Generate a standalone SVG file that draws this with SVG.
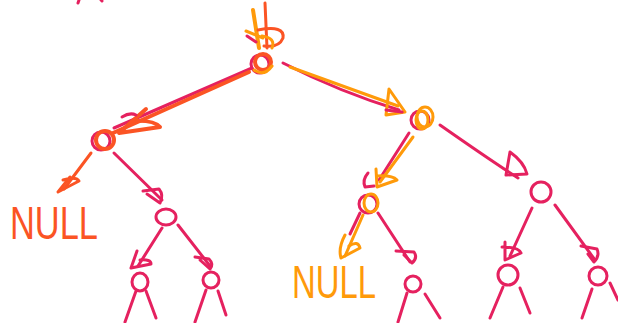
<svg xmlns="http://www.w3.org/2000/svg" width="618" height="323" viewBox="0 0 618 323">
  <style>
    .ln { fill: none; stroke-width: 3; stroke-linecap: round; stroke-linejoin: round; }
    .th { stroke-width: 4; }
    .pk { stroke: #e5215f; }
    .rd { stroke: #fb5424; }
    .og { stroke: #ff9a0a; }
    .lbl { font-family: "Liberation Sans", Arial, sans-serif; font-size: 46px; }
  </style>
  <rect width="618" height="323" fill="#ffffff"/>

  <!-- stray marks along the top edge -->
  <g id="marks">
    <path class="ln pk" d="M79,0 L78,3"/>
    <path class="ln pk" d="M101,0 L102,1"/>
  </g>

  <g id="connectors">
    <!-- entry arrow into the root -->
    <path class="ln og th" d="M253,10 L259,48"/>
    <path class="ln og" d="M246,31 L263,38"/>
    <path class="ln rd" d="M265,3 L267,48"/>
    <path class="ln rd" d="M258,30 Q285,25 283,38 Q279,48 264,46"/>
    <path class="ln og" d="M262,36 Q276,38 272,48"/>
    <path class="ln pk" d="M247,36 L256,42"/>

    <!-- root -> left child -->
    <path class="ln pk" d="M252,68 L114,128"/>
    <path class="ln rd th" d="M249,72 L113,133"/>
    <path class="ln rd th" d="M146,109 L119,133 L160,127 Q154,120 134,121"/>
    <path class="ln pk" d="M122,117 Q130,112 136,115"/>

    <!-- root -> right child -->
    <path class="ln pk" d="M283,63 Q340,92 399,110"/>
    <path class="ln og" d="M290,67 L398,106"/>
    <path class="ln og" d="M389,89 L386,115 L405,112 Z"/>
    <path class="ln pk" d="M386,110 L402,112"/>

    <!-- left child -> NULL -->
    <path class="ln rd" d="M91,153 L64,189"/>
    <path class="ln rd" d="M70,177 L58,192 L79,181 Q76,176 63,180"/>

    <!-- left child -> right subtree -->
    <path class="ln pk" d="M114,153 L162,200"/>
    <path class="ln pk" d="M143,191 L159,189 Q164,195 160,203 L147,194"/>

    <!-- node 166,218 -> children -->
    <path class="ln pk" d="M162,228 L138,266"/>
    <path class="ln pk" d="M137,251 L131,268 L151,264 Q151,259 140,260"/>
    <path class="ln pk" d="M178,225 L210,266"/>
    <path class="ln pk" d="M195,257 L209,259 Q214,264 210,269 L200,260"/>

    <!-- right child -> left subtree -->
    <path class="ln pk" d="M409,133 L379,180"/>
    <path class="ln og" d="M413,137 L380,182"/>
    <path class="ln og" d="M376,169 L377,187 L397,180 Q392,175 378,176"/>
    <path class="ln pk" d="M368,173 Q362,180 365,187 L374,186"/>

    <!-- node 370,203 -> NULL -->
    <path class="ln og" d="M363,215 L345,256"/>
    <path class="ln pk" d="M360,213 L350,234"/>
    <path class="ln og" d="M345,235 Q338,248 341,258 L360,248 Q358,240 349,246"/>

    <!-- node 370,203 -> right -->
    <path class="ln pk" d="M378,213 L410,262"/>
    <path class="ln pk" d="M396,251 L414,252 Q418,258 412,263 L404,255"/>

    <!-- right child -> right subtree -->
    <path class="ln pk" d="M440,125 Q490,160 518,178"/>
    <path class="ln pk" d="M510,152 L506,175 L527,174 Q524,162 510,152"/>

    <!-- node 541,192 -> children -->
    <path class="ln pk" d="M532,208 L510,256"/>
    <path class="ln pk" d="M505,242 L505,260 L521,253 Q519,247 502,247"/>
    <path class="ln pk" d="M555,205 L595,260"/>
    <path class="ln pk" d="M581,246 L597,249 Q600,256 594,262 L588,254"/>
  </g>

  <!-- root -->
  <g id="root">
    <circle class="ln pk" cx="260" cy="64" r="9"/>
    <circle class="ln rd th" cx="263" cy="62" r="8"/>
    <path class="ln og" d="M254,70 Q264,77 272,66"/>
  </g>

  <!-- left child -->
  <g id="left">
    <circle class="ln pk" cx="101" cy="141" r="9"/>
    <circle class="ln rd th" cx="105" cy="140" r="9"/>
  </g>

  <g id="null-left">
    <text class="lbl" x="10" y="239" fill="#fb5424" textLength="88" lengthAdjust="spacingAndGlyphs">NULL</text>
  </g>

  <g id="left-right">
    <ellipse class="ln pk" cx="166" cy="217" rx="10" ry="8"/>
  </g>

  <g id="left-right-left">
    <ellipse class="ln pk" cx="140" cy="282" rx="8" ry="9"/>
    <path class="ln pk" d="M136,291 L125,322"/>
    <path class="ln pk" d="M146,291 L156,318"/>
  </g>

  <g id="left-right-right">
    <circle class="ln pk" cx="211" cy="280" r="8"/>
    <path class="ln pk" d="M206,290 L195,322"/>
    <path class="ln pk" d="M218,291 L226,315"/>
  </g>

  <!-- right child -->
  <g id="right">
    <circle class="ln pk" cx="420" cy="120" r="9"/>
    <ellipse class="ln og" cx="425" cy="117" rx="8" ry="10"/>
    <ellipse class="ln og" cx="422" cy="120" rx="6" ry="9"/>
  </g>

  <g id="right-left">
    <circle class="ln pk" cx="368" cy="204" r="9"/>
    <ellipse class="ln og" cx="371" cy="203" rx="7" ry="9"/>
  </g>

  <g id="null-right">
    <text class="lbl" x="292" y="298" fill="#ff9a0a" textLength="84" lengthAdjust="spacingAndGlyphs">NULL</text>
  </g>

  <g id="right-left-right">
    <circle class="ln pk" cx="413" cy="284" r="8"/>
    <path class="ln pk" d="M407,293 L398,322"/>
    <path class="ln pk" d="M425,294 L440,318"/>
  </g>

  <g id="right-right">
    <circle class="ln pk" cx="541" cy="192" r="10"/>
  </g>

  <g id="right-right-left">
    <circle class="ln pk" cx="508" cy="275" r="10"/>
    <path class="ln pk" d="M503,287 L490,318"/>
    <path class="ln pk" d="M520,288 L530,313"/>
  </g>

  <g id="right-right-right">
    <circle class="ln pk" cx="598" cy="276" r="9"/>
    <path class="ln pk" d="M592,289 L582,318"/>
    <path class="ln pk" d="M610,283 L618,300"/>
  </g>
</svg>
